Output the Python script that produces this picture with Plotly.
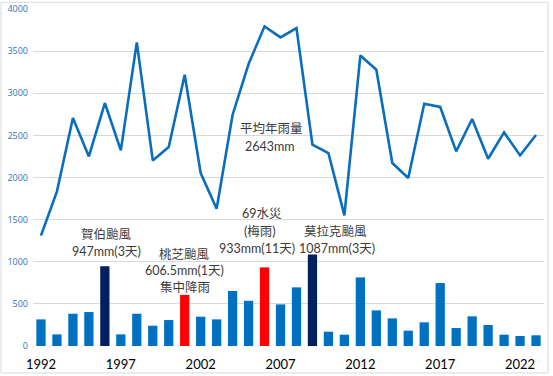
import plotly.graph_objects as go

years = list(range(1992, 2024))
annual_rain = [1310, 1835, 2706, 2250, 2884, 2322, 3604, 2203, 2362, 3220,
               2053, 1630, 2745, 3347, 3794, 3663, 3774, 2389, 2290, 1550,
               3449, 3280, 2172, 1994, 2876, 2837, 2310, 2694, 2223, 2535,
               2262, 2504]
max_event_rain = [316, 138, 383, 403, 947, 138, 383, 241, 308, 606.5,
                  348, 316, 653, 537, 933, 494, 696, 1087, 170, 134,
                  814, 423, 328, 182, 281, 747, 213, 352, 249, 134,
                  119, 127]
typhoon_years = [1996, 2009]
concentrated_years = [2001, 2006]
tick_years = [1992, 1997, 2002, 2007, 2012, 2017, 2022]
y_ticks = [0, 500, 1000, 1500, 2000, 2500, 3000, 3500, 4000]

bar_colors = []
for y in years:
    if y in typhoon_years:
        bar_colors.append("#002060")
    elif y in concentrated_years:
        bar_colors.append("#FF0000")
    else:
        bar_colors.append("#0070C0")

fig = go.Figure()
fig.add_trace(go.Bar(x=years, y=max_event_rain, marker=dict(color=bar_colors, line=dict(width=0)),
                     showlegend=False))
fig.add_trace(go.Scatter(x=years, y=annual_rain, mode="lines",
                         line=dict(color="#0A6EBD", width=2.6), showlegend=False))

cjk = "Noto Sans CJK TC"
txt_font = dict(family="Lato, " + cjk, size=12.5, color="#3a3a3a")
labels = [
    ("賀伯颱風", 1996.12, 1321),
    ("947mm(3天)", 1996.12, 1123),
    ("桃芝颱風", 2001.0, 1084),
    ("606.5mm(1天)", 2001.0, 897),
    ("集中降雨", 2001.0, 692),
    ("69水災", 2005.82, 1571),
    ("(梅雨)", 2005.71, 1360),
    ("933mm(11天)", 2005.55, 1163),
    ("莫拉克颱風", 2010.45, 1360),
    ("1087mm(3天)", 2010.55, 1163),
    ("平均年雨量", 2006.44, 2579),
    ("2643mm", 2006.34, 2369),
]
for t, x, y in labels:
    fig.add_annotation(x=x, y=y, text=t, showarrow=False, font=txt_font,
                       xanchor="center", yanchor="middle")

fig.add_shape(type="rect", xref="paper", yref="paper",
              x0=-0.0626, x1=1.0078, y0=-0.080, y1=1.020,
              line=dict(color="#d9d9d9", width=1), layer="below")

fig.update_layout(
    width=553, height=376,
    margin=dict(l=33, r=9, t=9, b=30),
    paper_bgcolor="white", plot_bgcolor="white",
    bargap=0.42,
    xaxis=dict(range=[1991.5, 2023.5], tickvals=tick_years,
               ticktext=[str(v) for v in tick_years],
               showgrid=False, zeroline=False, showline=False, ticks="",
               ticklabelstandoff=9, automargin=False,
               tickfont=dict(family="Lato, Open Sans", size=13, color="#000000")),
    yaxis=dict(range=[0, 4000], tickvals=y_ticks, showgrid=True,
               gridcolor="#d9d9d9", gridwidth=1, zeroline=False, showline=False,
               ticks="", ticklabelstandoff=4, automargin=False,
               tickfont=dict(family="Open Sans", size=9, color="#2E75B6")),
)

fig.write_html("out.html", config={"displayModeBar": False},
               post_script="document.body.style.margin='0';")
